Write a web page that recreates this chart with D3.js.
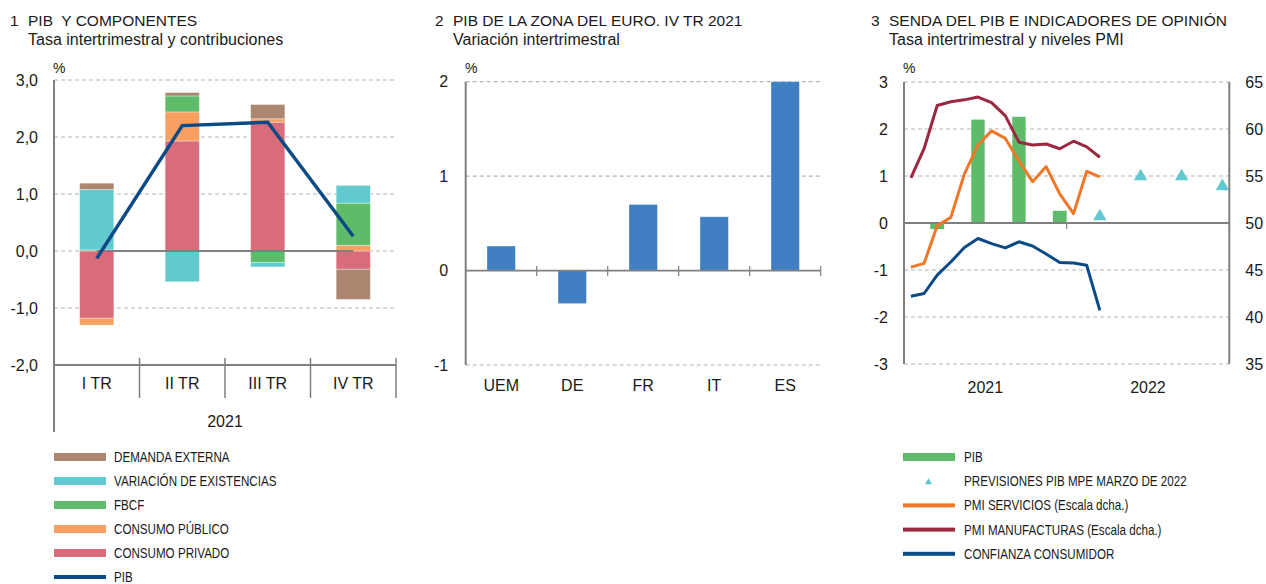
<!DOCTYPE html>
<html lang="es">
<head>
<meta charset="utf-8">
<script src="https://cdn.jsdelivr.net/npm/d3@7"></script>
<style>
  html, body { margin: 0; padding: 0; background: #ffffff; }
  svg { display: block; }
  text { fill: #1a1a1a; }
</style>
</head>
<body>
<svg id="chart" width="1266" height="584"></svg>
<script>
// ---------- Panel 1: PIB y componentes (contribuciones, pp) ----------
const trimestres = ["I TR", "II TR", "III TR", "IV TR"];
const consumoPrivado = [-1.18, 1.93, 2.26, -0.32];
const consumoPublico = [-0.12, 0.51, 0.06, 0.10];
const fbcf = [0.02, 0.28, -0.20, 0.74];
const existencias = [1.06, -0.54, -0.08, 0.31];
const demandaExterna = [0.11, 0.06, 0.25, -0.53];
const pibTrimestral = [-0.13, 2.20, 2.26, 0.26];
const ticks1 = [3, 2, 1, 0, -1, -2];

// ---------- Panel 2: PIB de la zona del euro, IV TR 2021 ----------
const zonas = ["UEM", "DE", "FR", "IT", "ES"];
const pibZonas = [0.26, -0.35, 0.70, 0.57, 2.00];
const ticks2 = [2, 1, 0, -1];

// ---------- Panel 3: senda del PIB e indicadores de opinión ----------
const meses = ["2021-01", "2021-02", "2021-03", "2021-04", "2021-05", "2021-06", "2021-07",
  "2021-08", "2021-09", "2021-10", "2021-11", "2021-12", "2022-01", "2022-02", "2022-03"];
const pmiManufacturas = [54.8, 57.9, 62.5, 62.9, 63.1, 63.4, 62.8, 61.4, 58.6, 58.3, 58.4, 57.9, 58.7, 58.1, 57.0];
const pmiServicios = [45.3, 45.7, 49.7, 50.6, 55.2, 58.3, 59.8, 59.0, 56.6, 54.4, 56.0, 53.1, 51.0, 55.5, 54.9];
const confianzaConsumidor = [-1.56, -1.50, -1.11, -0.83, -0.52, -0.33, -0.44, -0.53, -0.40, -0.49, -0.66, -0.84, -0.85, -0.90, -1.86];
const mesesPib = ["2021-03", "2021-06", "2021-09", "2021-12"];
const mesesPrevision = ["2022-03", "2022-06", "2022-09", "2022-12"];
const previsionPib = [0.14, 0.99, 0.99, 0.78];
const anios = ["2021", "2022"];
const ticks3Izq = [3, 2, 1, 0, -1, -2, -3];
const ticks3Der = [65, 60, 55, 50, 45, 40, 35];

// ---------- Style ----------
const C = {
  externa: "#ab8771",
  existencias: "#62c9d1",
  fbcf: "#5dbb6a",
  publico: "#f7a062",
  privado: "#d86c7a",
  pib: "#0c4a86",
  zona: "#3f7fc2",
  servicios: "#f07727",
  manufacturas: "#9c2840",
  axis: "#808080",
  grid: "#b4b4b4"
};
const FONT = "'Liberation Sans', Arial, Helvetica, sans-serif";

const es = d3.formatLocale({ decimal: ",", thousands: ".", grouping: [3], currency: ["", " €"], minus: "-" });
const fmt1 = es.format(".1f");
const fmt0 = es.format("d");

const svg = d3.select("#chart").style("font-family", FONT);

function title(x, num, line1, line2) {
  const g = svg.append("g").attr("font-size", 15.5);
  g.append("text").attr("x", x).attr("y", 26).text(num);
  g.append("text").attr("x", x + 18).attr("y", 26).attr("xml:space", "preserve").text(line1);
  g.append("text").attr("x", x + 18).attr("y", 44.5).attr("font-size", 16).text(line2);
}

function grid(g, y, values, x0, x1) {
  g.selectAll(null).data(values).join("line")
    .attr("x1", x0).attr("x2", x1)
    .attr("y1", d => y(d)).attr("y2", d => y(d))
    .attr("stroke", C.grid).attr("stroke-width", 1.2).attr("stroke-dasharray", "4,3");
}

function styleAxis(sel, size) {
  sel.select(".domain").remove();
  sel.selectAll(".tick line").remove();
  sel.selectAll("text").attr("font-size", size).attr("fill", "#1a1a1a").attr("font-family", FONT);
}

// condensed legend label: horizontally compressed sans text
function legendText(parent, x, y, label) {
  parent.append("text")
    .attr("transform", `translate(${x},${y}) scale(0.83,1)`)
    .attr("dy", "0.36em").attr("font-size", 14).attr("fill", "#333")
    .text(label);
}

// =================== Panel 1 ===================
title(10, "1", "PIB  Y COMPONENTES", "Tasa intertrimestral y contribuciones");
{
  const left = 54, right = 396;
  const x = d3.scaleBand().domain(trimestres).range([left, right]).padding(0);
  const y = d3.scaleLinear().domain([-2, 3]).range([365, 80]);
  const g = svg.append("g");

  grid(g, y, ticks1.filter(d => d !== -2), left, right);

  const keys = ["privado", "publico", "fbcf", "existencias", "externa"];
  const rows = trimestres.map((t, i) => ({
    t,
    privado: consumoPrivado[i],
    publico: consumoPublico[i],
    fbcf: fbcf[i],
    existencias: existencias[i],
    externa: demandaExterna[i]
  }));
  const series = d3.stack().keys(keys).offset(d3.stackOffsetDiverging)(rows);
  const bw = x.bandwidth() * 0.4;
  g.selectAll("g.serie").data(series).join("g")
    .attr("class", "serie")
    .attr("fill", s => C[s.key])
    .selectAll("rect").data(s => s).join("rect")
    .attr("x", d => x(d.data.t) + (x.bandwidth() - bw) / 2)
    .attr("width", bw)
    .attr("y", d => y(Math.max(d[0], d[1])))
    .attr("height", d => Math.abs(y(d[0]) - y(d[1])))
    .attr("stroke", "#ffffff").attr("stroke-opacity", 0.45).attr("stroke-width", 0.8);

  // zero reference between the first and last quarter
  const cx = d => x(d) + x.bandwidth() / 2;
  g.append("line")
    .attr("x1", cx(trimestres[0])).attr("x2", cx(trimestres[trimestres.length - 1]))
    .attr("y1", y(0)).attr("y2", y(0))
    .attr("stroke", C.axis).attr("stroke-width", 2);

  g.append("path")
    .datum(pibTrimestral)
    .attr("fill", "none").attr("stroke", C.pib).attr("stroke-width", 3.5)
    .attr("d", d3.line().x((d, i) => cx(trimestres[i])).y(d => y(d)));

  // axes
  g.append("line").attr("x1", left).attr("x2", left).attr("y1", y(3)).attr("y2", 432)
    .attr("stroke", C.axis).attr("stroke-width", 2);
  g.append("line").attr("x1", left).attr("x2", right).attr("y1", y(-2)).attr("y2", y(-2))
    .attr("stroke", C.axis).attr("stroke-width", 2);
  g.selectAll(null).data(trimestres).join("line")
    .attr("x1", d => x(d) + x.bandwidth()).attr("x2", d => x(d) + x.bandwidth())
    .attr("y1", 358).attr("y2", 398)
    .attr("stroke", C.axis).attr("stroke-width", 1.5);

  const ya = g.append("g").attr("transform", `translate(${left},0)`)
    .call(d3.axisLeft(y).tickValues(ticks1).tickFormat(fmt1).tickSize(0).tickPadding(16));
  styleAxis(ya, 16);

  const xa = g.append("g").attr("transform", `translate(0,378)`)
    .call(d3.axisBottom(x).tickSize(0).tickPadding(0));
  styleAxis(xa, 16);
  xa.selectAll("text").attr("dy", "0.71em");

  g.append("text").attr("x", (left + right) / 2).attr("y", 427).attr("text-anchor", "middle")
    .attr("font-size", 16).text("2021");
  g.append("text").attr("x", 53).attr("y", 73).attr("font-size", 14).attr("fill", "#333").text("%");

  // legend
  const leg = [
    { k: "DEMANDA EXTERNA", c: C.externa, h: 8 },
    { k: "VARIACIÓN DE EXISTENCIAS", c: C.existencias, h: 8 },
    { k: "FBCF", c: C.fbcf, h: 8 },
    { k: "CONSUMO PÚBLICO", c: C.publico, h: 8 },
    { k: "CONSUMO PRIVADO", c: C.privado, h: 8 },
    { k: "PIB", c: C.pib, h: 4 }
  ];
  const lg = svg.append("g");
  leg.forEach((d, i) => {
    const yy = 457 + i * 24;
    lg.append("rect").attr("x", 54).attr("y", yy - d.h / 2).attr("width", 52).attr("height", d.h).attr("fill", d.c);
    legendText(lg, 114, yy, d.k);
  });
}

// =================== Panel 2 ===================
title(435, "2", "PIB DE LA ZONA DEL EURO. IV TR 2021", "Variación intertrimestral");
{
  const left = 465.7, right = 820.7;
  const x = d3.scaleBand().domain(zonas).range([left, right]).padding(0);
  const y = d3.scaleLinear().domain([-1, 2]).range([365, 81.7]);
  const g = svg.append("g");

  grid(g, y, ticks2.filter(d => d !== 0), left, right);

  const bw = x.bandwidth() * 0.4;
  g.selectAll("rect").data(pibZonas).join("rect")
    .attr("x", (d, i) => x(zonas[i]) + (x.bandwidth() - bw) / 2)
    .attr("width", bw)
    .attr("y", d => y(Math.max(0, d)))
    .attr("height", d => Math.abs(y(d) - y(0)))
    .attr("fill", C.zona)
    .attr("stroke", "#ffffff").attr("stroke-opacity", 0.4).attr("stroke-width", 0.8);

  g.append("line").attr("x1", left).attr("x2", right).attr("y1", y(0)).attr("y2", y(0))
    .attr("stroke", C.axis).attr("stroke-width", 1.8);
  g.selectAll(null).data(zonas).join("line")
    .attr("x1", d => x(d) + x.bandwidth()).attr("x2", d => x(d) + x.bandwidth())
    .attr("y1", y(0) - 4.5).attr("y2", y(0) + 5.5)
    .attr("stroke", C.axis).attr("stroke-width", 1.2);
  g.append("line").attr("x1", left).attr("x2", left).attr("y1", y(2)).attr("y2", y(-1))
    .attr("stroke", C.axis).attr("stroke-width", 2);

  const ya = g.append("g").attr("transform", `translate(${left},0)`)
    .call(d3.axisLeft(y).tickValues(ticks2).tickFormat(fmt0).tickSize(0).tickPadding(17.5));
  styleAxis(ya, 16);

  const xa = g.append("g").attr("transform", `translate(0,380)`)
    .call(d3.axisBottom(x).tickSize(0).tickPadding(0));
  styleAxis(xa, 16);
  xa.selectAll("text").attr("dy", "0.71em");

  g.append("text").attr("x", 465).attr("y", 73).attr("font-size", 14).attr("fill", "#333").text("%");
}

// =================== Panel 3 ===================
title(871, "3", "SENDA DEL PIB E INDICADORES DE OPINIÓN", "Tasa intertrimestral y niveles PMI");
{
  const left = 904, right = 1229.3, top = 82, bottom = 364;
  const parse = d3.timeParse("%Y-%m");
  const x = d3.scaleTime().domain([parse("2021-01"), parse("2023-01")]).range([left, right]);
  const y = d3.scaleLinear().domain([-3, 3]).range([bottom, top]);
  const yR = d3.scaleLinear().domain([35, 65]).range([bottom, top]);
  const mid = m => { const a = parse(m); return new Date((+a + +d3.timeMonth.offset(a, 1)) / 2); };
  const g = svg.append("g");

  grid(g, y, ticks3Izq.filter(d => d !== 0), left, right);

  // quarterly GDP bars, drawn over the last month of each quarter
  g.selectAll("rect.pib").data(pibTrimestral).join("rect")
    .attr("class", "pib")
    .attr("x", (d, i) => x(parse(mesesPib[i])))
    .attr("width", (d, i) => x(d3.timeMonth.offset(parse(mesesPib[i]), 1)) - x(parse(mesesPib[i])))
    .attr("y", d => y(Math.max(0, d)))
    .attr("height", d => Math.abs(y(d) - y(0)))
    .attr("fill", C.fbcf);

  g.append("line").attr("x1", left).attr("x2", right).attr("y1", y(0)).attr("y2", y(0))
    .attr("stroke", C.axis).attr("stroke-width", 1.8);
  g.selectAll(null).data(["2022-01", "2023-01"]).join("line")
    .attr("x1", d => x(parse(d))).attr("x2", d => x(parse(d)))
    .attr("y1", y(0)).attr("y2", y(0) + 6)
    .attr("stroke", C.axis).attr("stroke-width", 1.2);

  const line = (scale) => d3.line().x((d, i) => x(mid(meses[i]))).y(d => scale(d));
  g.append("path").datum(pmiManufacturas).attr("fill", "none").attr("stroke", C.manufacturas)
    .attr("stroke-width", 3).attr("stroke-linejoin", "round").attr("d", line(yR));
  g.append("path").datum(pmiServicios).attr("fill", "none").attr("stroke", C.servicios)
    .attr("stroke-width", 3).attr("stroke-linejoin", "round").attr("d", line(yR));
  g.append("path").datum(confianzaConsumidor).attr("fill", "none").attr("stroke", C.pib)
    .attr("stroke-width", 3).attr("stroke-linejoin", "round").attr("d", line(y));

  g.selectAll("path.prev").data(previsionPib).join("path")
    .attr("class", "prev")
    .attr("transform", (d, i) => `translate(${x(mid(mesesPrevision[i]))},${y(d)})`)
    .attr("d", d3.symbol(d3.symbolTriangle, 78))
    .attr("fill", C.existencias);

  g.append("line").attr("x1", left).attr("x2", left).attr("y1", top).attr("y2", bottom)
    .attr("stroke", C.axis).attr("stroke-width", 2);
  g.append("line").attr("x1", right).attr("x2", right).attr("y1", top).attr("y2", bottom)
    .attr("stroke", C.axis).attr("stroke-width", 2);

  const ya = g.append("g").attr("transform", `translate(${left},0)`)
    .call(d3.axisLeft(y).tickValues(ticks3Izq).tickFormat(fmt0).tickSize(0).tickPadding(16));
  styleAxis(ya, 16);
  const yb = g.append("g").attr("transform", `translate(${right},0)`)
    .call(d3.axisRight(yR).tickValues(ticks3Der).tickFormat(fmt0).tickSize(0).tickPadding(16));
  styleAxis(yb, 16);

  g.selectAll("text.anio").data(anios).join("text")
    .attr("class", "anio")
    .attr("x", d => (x(new Date(+d, 0, 1)) + x(new Date(+d + 1, 0, 1))) / 2)
    .attr("y", 393).attr("text-anchor", "middle").attr("font-size", 16).text(d => d);

  g.append("text").attr("x", 903).attr("y", 73).attr("font-size", 14).attr("fill", "#333").text("%");

  const leg = [
    { k: "PIB", c: C.fbcf, t: "bar" },
    { k: "PREVISIONES PIB MPE MARZO DE 2022", c: C.existencias, t: "tri" },
    { k: "PMI SERVICIOS (Escala dcha.)", c: C.servicios, t: "line" },
    { k: "PMI MANUFACTURAS (Escala dcha.)", c: C.manufacturas, t: "line" },
    { k: "CONFIANZA CONSUMIDOR", c: C.pib, t: "line" }
  ];
  const lg = svg.append("g");
  leg.forEach((d, i) => {
    const yy = 457 + i * 24.2;
    if (d.t === "tri") {
      lg.append("path").attr("transform", `translate(928.5,${yy + 1})`)
        .attr("d", d3.symbol(d3.symbolTriangle, 22)).attr("fill", d.c);
    } else {
      const h = d.t === "bar" ? 8 : 4;
      lg.append("rect").attr("x", 903).attr("y", yy - h / 2).attr("width", 52).attr("height", h).attr("fill", d.c);
    }
    legendText(lg, 964, yy, d.k);
  });
}
</script>
</body>
</html>
